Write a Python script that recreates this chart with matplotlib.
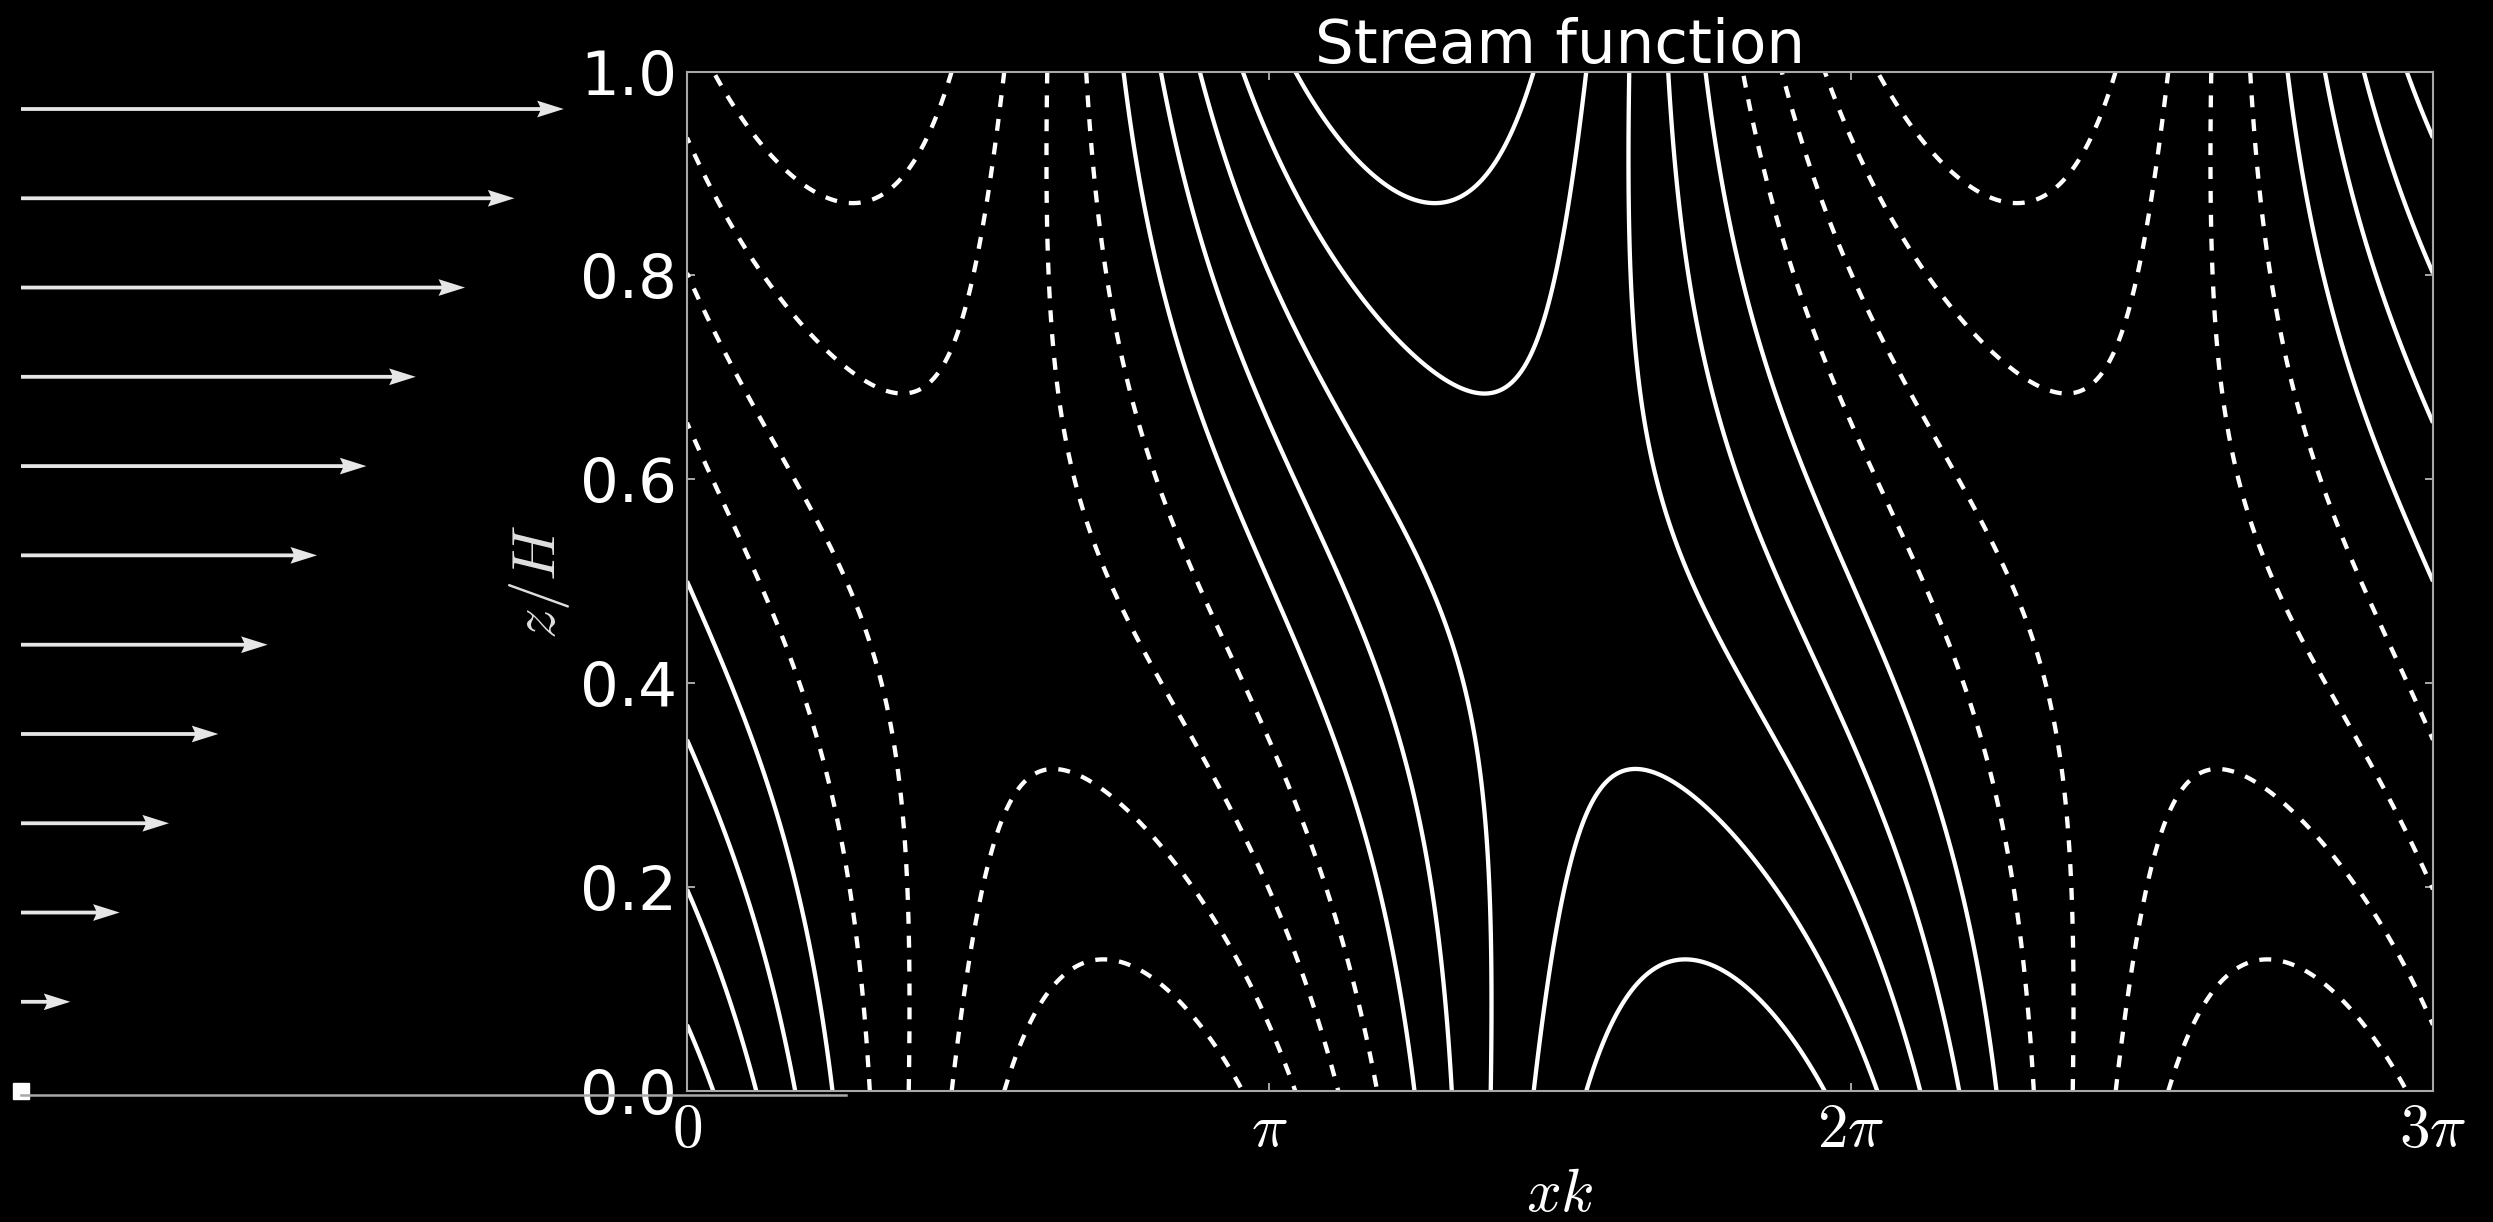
import numpy as np
import matplotlib
matplotlib.use("Agg")
import matplotlib.pyplot as plt

plt.rcParams["mathtext.fontset"] = "cm"
plt.rcParams["font.family"] = ["DejaVu Sans"]
plt.rcParams["lines.scale_dashes"] = False

# Background shear flow U(z) = z sampled at evenly spaced heights
z_heights = [0.0, 0.0909, 0.1818, 0.2727, 0.3636, 0.4545,
             0.5455, 0.6364, 0.7273, 0.8182, 0.9091, 1.0]
u_speed = [0.0, 0.0909, 0.1818, 0.2727, 0.3636, 0.4545,
           0.5455, 0.6364, 0.7273, 0.8182, 0.9091, 1.0]

# Eady-mode parameters: scaled wavenumber and zonal phase of the surface maximum
mu = 1.606
phase_surface = 1.75 * np.pi
levels = [-0.8, -0.6, -0.4, -0.2, 0.0, 0.2, 0.4, 0.6, 0.8]

xtick_pos = [0.0, np.pi, 2 * np.pi, 3 * np.pi]
xtick_lab = [r"$0$", r"$\pi$", r"$2\pi$", r"$3\pi$"]
ytick_pos = [0.0, 0.2, 0.4, 0.6, 0.8, 1.0]
ytick_lab = ["0.0", "0.2", "0.4", "0.6", "0.8", "1.0"]

# Eady normal mode: phi'' = mu^2 phi with kinematic boundary conditions
ci = (1.0 / mu) * np.sqrt((1.0 / np.tanh(mu / 2) - mu / 2) * (mu / 2 - np.tanh(mu / 2)))
c = 0.5 + 1j * ci
zz = np.linspace(0.0, 1.0, 400)
xx = np.linspace(0.0, 3 * np.pi, 900)
phi = np.cosh(mu * zz) - np.sinh(mu * zz) / (mu * c)
phi = phi / np.abs(phi).max()
X, Z = np.meshgrid(xx, zz)
psi = np.real(phi[:, None] * np.exp(1j * (X - phase_surface)))

W, H = 2493, 1222
fig = plt.figure(figsize=(W / 100, H / 100), dpi=100, facecolor="black")

spine_col = "#a8a8a8"

# Stream-function panel
ax = fig.add_axes([687 / W, (H - 1091) / H, (2433 - 687) / W, (1091 - 71.5) / H])
ax.set_facecolor("black")
styles = [(0, (8.6, 8.6)) if lv < 0 else "solid" for lv in levels]
ax.contour(X, Z, psi, levels=levels, colors="white", linewidths=3.1, linestyles=styles)
ax.set_xlim(0, 3 * np.pi)
ax.set_ylim(0, 1)
ax.set_xticks(xtick_pos)
ax.set_xticklabels(xtick_lab)
ax.set_yticks(ytick_pos)
ax.set_yticklabels(ytick_lab)
ax.tick_params(direction="in", top=True, right=True, length=5.8, width=1.4,
               color=spine_col, labelcolor="white", labelsize=44, pad=7)
for s in ax.spines.values():
    s.set_color(spine_col)
    s.set_linewidth(1.5)
ax.set_title("Stream function", color="white", fontsize=44, pad=6)
ax.set_xlabel(r"$xk$", color="white", fontsize=44, labelpad=4)
ax.set_ylabel(r"$z/H$", color="#e0e0e0", fontsize=44, labelpad=6)

# Velocity-profile panel on the left
top_px = 89
ax2 = fig.add_axes([21 / W, (H - 1095) / H, (846 - 21) / W, (1095 - top_px) / H])
ax2.patch.set_alpha(0.0)
ax2.set_xlim(0, 1.52)
ax2.set_ylim(-0.004, 1.0 + (109 - top_px) / 982)
ax2.quiver(np.zeros(len(z_heights)), z_heights, u_speed, np.zeros(len(z_heights)),
           angles="xy", scale_units="xy", scale=1, color="#e6e6e6",
           width=0.0046, headwidth=4.4, headlength=7.0, headaxislength=6.2)
ax2.plot([0.0], [0.0], "s", color="white", ms=11.5, clip_on=False)
for name, s in ax2.spines.items():
    if name == "bottom":
        s.set_color(spine_col)
        s.set_linewidth(1.8)
    else:
        s.set_visible(False)
ax2.set_xticks([])
ax2.set_yticks([])

fig.savefig("out.png", dpi=100, facecolor="black")
